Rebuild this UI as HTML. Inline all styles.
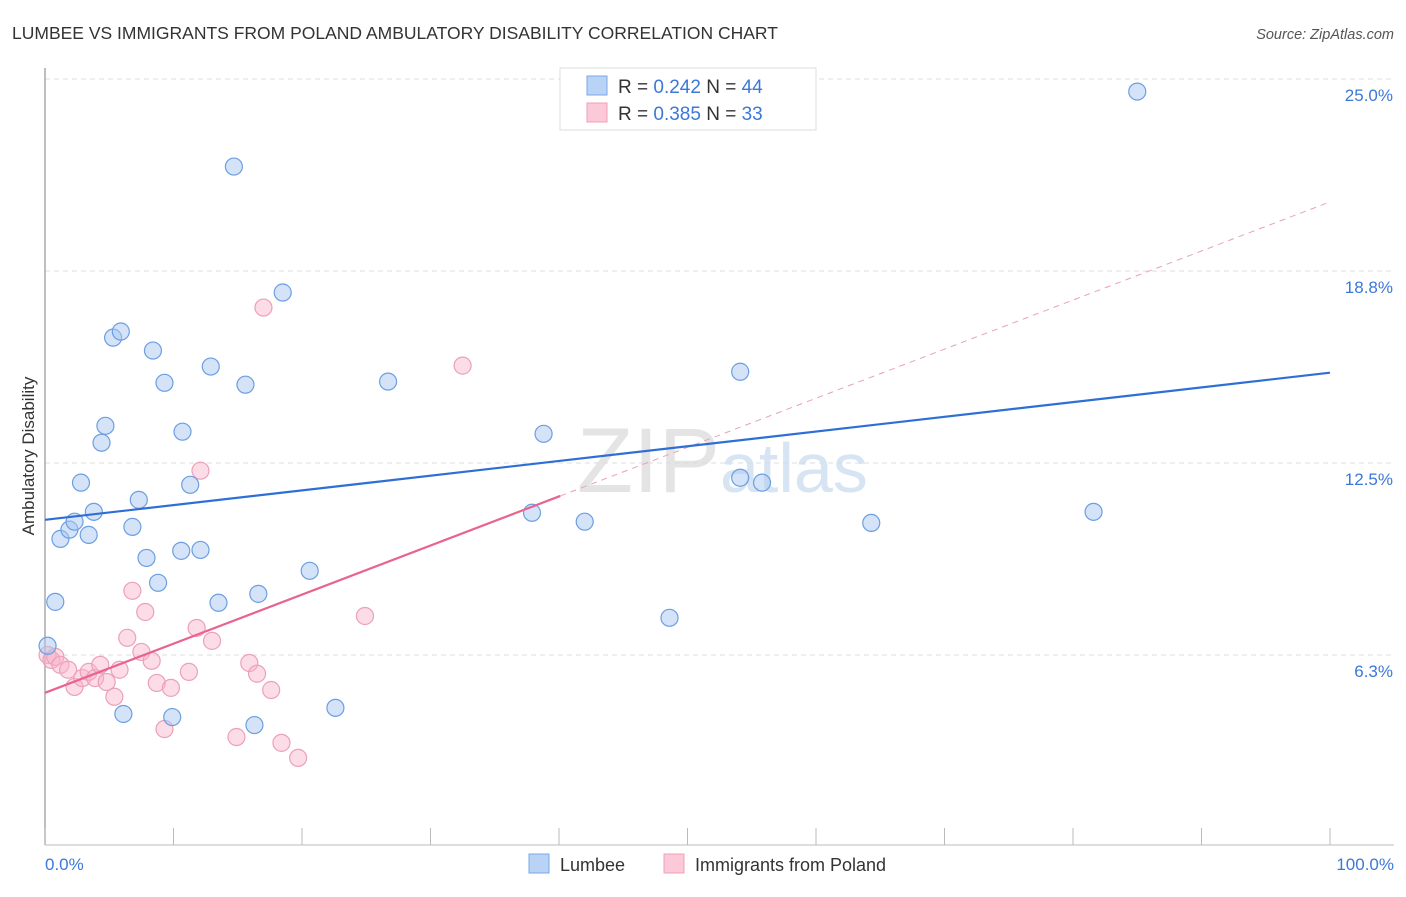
<!DOCTYPE html>
<html><head><meta charset="utf-8"><style>
body{margin:0;background:#fff;font-family:"Liberation Sans",sans-serif}
svg text{font-family:"Liberation Sans",sans-serif}
</style></head><body>
<svg width="1406" height="892">
<text x="12" y="39" font-size="17.5" fill="#333">LUMBEE VS IMMIGRANTS FROM POLAND AMBULATORY DISABILITY CORRELATION CHART</text>
<text x="1394" y="39" font-size="14.5" fill="#555" font-style="italic" text-anchor="end">Source: ZipAtlas.com</text>
<text x="720" y="492" font-size="92" fill="#e4e4e4" text-anchor="end" font-family="Liberation Serif">ZIP</text>
<text x="720" y="492" font-size="70" fill="#d6e4f4">atlas</text>
<g id="grid"></g><g id="axes"></g><g id="marks"></g>
<text transform="translate(34,456) rotate(-90)" font-size="17" fill="#333" text-anchor="middle">Ambulatory Disability</text>
<text x="45" y="870" font-size="17" fill="#3b78d8">0.0%</text>
<text x="1394" y="870" font-size="17" fill="#3b78d8" text-anchor="end">100.0%</text>
<g>
<rect x="560" y="68" width="256" height="62" fill="#fff" stroke="#ddd"/>
<rect x="587" y="76" width="20" height="19" fill="#b8d3f5" stroke="#7aa7e6"/>
<rect x="587" y="103" width="20" height="19" fill="#fbc9d8" stroke="#f0a0bb"/>
<text x="618" y="93" font-size="19" fill="#333">R = <tspan fill="#3b78d8">0.242</tspan>   N = <tspan fill="#3b78d8">44</tspan></text>
<text x="618" y="120" font-size="19" fill="#333">R = <tspan fill="#3b78d8">0.385</tspan>   N =  <tspan fill="#3b78d8">33</tspan></text>
</g>
<g>
<rect x="529" y="854" width="20" height="19" fill="#b8d3f5" stroke="#7aa7e6"/>
<text x="560" y="871" font-size="18" fill="#333">Lumbee</text>
<rect x="664" y="854" width="20" height="19" fill="#fbc9d8" stroke="#f0a0bb"/>
<text x="695" y="871" font-size="18" fill="#333">Immigrants from Poland</text>
</g>
</svg>
<script>
const yTicks=[6.25,12.5,18.75,25];
const yTickLabels=["6.3%","12.5%","18.8%","25.0%"];
const xTicks=[0,10,20,30,40,50,60,70,80,90,100];
const lumbeeX=[0.2,0.8,1.2,1.9,2.3,2.8,3.4,3.8,4.4,4.7,5.3,5.9,6.1,6.8,7.3,7.9,8.4,8.8,9.3,9.9,10.6,10.7,11.3,12.1,12.9,13.5,14.7,15.6,16.3,16.6,18.5,20.6,22.6,26.7,37.9,38.8,42.0,48.6,54.1,54.1,55.8,64.3,81.6,85.0];
const lumbeeY=[6.55,7.98,10.03,10.33,10.59,11.86,10.16,10.91,13.16,13.71,16.58,16.78,4.33,10.42,11.30,9.41,16.16,8.60,15.11,4.23,9.64,13.52,11.79,9.67,15.64,7.95,22.15,15.05,3.97,8.24,18.05,8.99,4.53,15.15,10.88,13.45,10.59,7.46,15.47,12.02,11.86,10.55,10.91,24.59];
const polandX=[0.2,0.5,0.8,1.2,1.8,2.3,2.9,3.4,3.9,4.3,4.8,5.4,5.8,6.8,7.5,7.8,6.4,8.3,8.7,9.3,9.8,11.2,11.8,12.1,13.0,14.9,15.9,16.5,17.0,17.6,18.4,19.7,24.9,32.5];
const polandY=[6.25,6.09,6.19,5.93,5.77,5.21,5.50,5.70,5.50,5.93,5.37,4.89,5.77,8.34,6.35,7.65,6.81,6.06,5.34,3.84,5.18,5.70,7.13,12.25,6.71,3.58,5.99,5.64,17.56,5.11,3.39,2.90,7.52,15.67];
const lumbeeTrend=[10.65,15.44];
const polandTrend=[5.02,21.0];
const polandSolidEnd=40.1;
const NS="http://www.w3.org/2000/svg";
const X=v=>45+v*12.85, Y=v=>847-v*30.72;
function mk(p,t,a){const e=document.createElementNS(NS,t);for(const k in a)e.setAttribute(k,a[k]);p.appendChild(e);return e;}
const grid=document.getElementById('grid'),axes=document.getElementById('axes'),marks=document.getElementById('marks');
yTicks.forEach((v,i)=>{
 const l=mk(grid,'line',{x1:45,x2:1394,y1:Y(v),y2:Y(v),stroke:'#ddd','stroke-dasharray':'5,4'});
 
 
 const t=mk(grid,'text',{x:1393,y:Y(v)+22,'font-size':17,fill:'#3b78d8','text-anchor':'end'});
 t.textContent=yTickLabels[i];
 
 
});
const ax=mk(axes,'line',{x1:45,x2:45,y1:68,y2:845,stroke:'#aaa','stroke-width':1.5});


const bx=mk(axes,'line',{x1:45,x2:1394,y1:845,y2:845,stroke:'#bbb'});


xTicks.forEach(v=>{
 const t=mk(axes,'line',{x1:X(v),x2:X(v),y1:828,y2:845,stroke:'#bbb'});
 
 
});
function dots(xs,ys,fill,stroke,name){
 xs.forEach((x,i)=>{
  const c=mk(marks,'circle',{cx:X(x),cy:Y(ys[i]),r:8.5,fill:fill,stroke:stroke,'stroke-width':1.2});
  
  
 });
}
dots(polandX,polandY,'rgba(248,180,202,0.45)','#eca0b9','poland-point');
dots(lumbeeX,lumbeeY,'rgba(170,200,242,0.5)','#6b9fe2','lumbee-point');
const pd=mk(marks,'line',{x1:X(polandSolidEnd),y1:Y(polandTrend[0]+(polandTrend[1]-polandTrend[0])*polandSolidEnd/100),x2:X(100),y2:Y(polandTrend[1]),stroke:'#eaa0b8','stroke-dasharray':'6,5'});


const ps=mk(marks,'line',{x1:X(0),y1:Y(polandTrend[0]),x2:X(polandSolidEnd),y2:Y(polandTrend[0]+(polandTrend[1]-polandTrend[0])*polandSolidEnd/100),stroke:'#e8648f','stroke-width':2.2});


const bl=mk(marks,'line',{x1:X(0),y1:Y(lumbeeTrend[0]),x2:X(100),y2:Y(lumbeeTrend[1]),stroke:'#2e6fd6','stroke-width':2.2});


</script>
</body></html>
